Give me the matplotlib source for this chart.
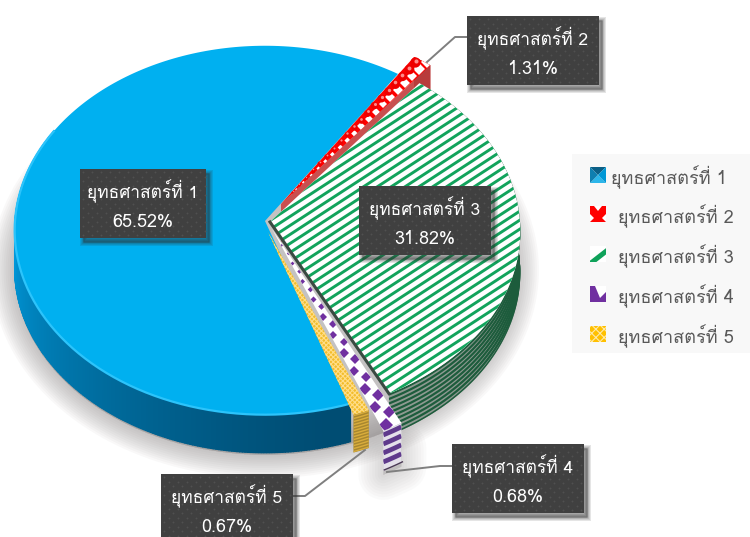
import numpy as np
import matplotlib
matplotlib.use('Agg')
import matplotlib.pyplot as plt
from matplotlib.patches import Polygon, Rectangle

names = ['ยุทธศาสตร์ที่ 1', 'ยุทธศาสตร์ที่ 2', 'ยุทธศาสตร์ที่ 3', 'ยุทธศาสตร์ที่ 4', 'ยุทธศาสตร์ที่ 5']
values = [65.52, 1.31, 31.82, 0.68, 0.67]
pct_labels = ['65.52%', '1.31%', '31.82%', '0.68%', '0.67%']

plt.rcParams['font.family'] = ['Loma', 'DejaVu Sans']
plt.rcParams['hatch.linewidth'] = 0.8

# the small slices are drawn wider than their true share, as in the original
sweep_scale = [0.986, 1.0, 1.0, 1.8, 1.5]
angle_shift = [0, 0, 0, -2.0, 0]
first_angle = 161.0
persp = 0.05
depth = 38
cx = [265, 281, 270, 272, 268]
cy = [221, 204, 222, 229, 232]
rx = [250, 250, 250, 255, 250]
ry = [184, 184, 184, 212, 184]

fig = plt.figure(figsize=(7.5, 5.37), dpi=100)
ax = fig.add_axes([0, 0, 1, 1])
ax.set_xlim(0, 750)
ax.set_ylim(537, 0)
ax.axis('off')

sweeps = np.array(values) * 3.6 * np.array(sweep_scale)
sweeps = sweeps * 360 / sweeps.sum()
starts = first_angle + np.concatenate([[0], np.cumsum(sweeps)[:-1]]) + np.array(angle_shift)
z = [1]


def next_z():
    z[0] += 1
    return z[0]


def arc(i, t0, t1, n=200):
    t = np.radians(np.linspace(t0, t1, n))
    w = 1 / (1 + persp * np.cos(t))
    return cx[i] + rx[i] * np.sin(t) * w, cy[i] - ry[i] * np.cos(t) * w


def wedge(i):
    x, y = arc(i, starts[i], starts[i] + sweeps[i])
    return np.r_[cx[i], x], np.r_[cy[i], y]


def add_poly(x, y, **kw):
    p = Polygon(np.c_[x, y], closed=True, zorder=next_z(), **kw)
    ax.add_patch(p)
    return p


def add_rect(x, y, w, h, **kw):
    return ax.add_patch(Rectangle((x, y), w, h, zorder=next_z(), **kw))


def add_line(x, y, clip=None, **kw):
    ln = ax.plot(x, y, zorder=next_z(), **kw)[0]
    if clip is not None:
        ln.set_clip_path(clip)
    return ln


def mix(c0, c1, f):
    return tuple((1 - f) * np.array(c0) + f * np.array(c1))


def ray_point(i, frac, f):
    a = starts[i] + sweeps[i] * frac
    lx, ly = arc(i, a, a, 2)
    return cx[i] + (lx[0] - cx[i]) * f, cy[i] + (ly[0] - cy[i]) * f


# soft shadow under the whole pie
sx, sy = arc(0, 0, 360)
for lw in range(34, 0, -3):
    add_poly(sx, sy + depth + 2, fc='#8a8585', ec='#8a8585', lw=lw, alpha=0.05)
px, py = arc(3, starts[3], starts[3] + sweeps[3], 20)
for lw in range(36, 0, -4):
    add_poly(np.r_[px, px[::-1]], np.r_[py + 25, py[::-1] + depth + 6], fc='#8a8585', ec='#8a8585',
             lw=lw, alpha=0.035, joinstyle='round')

# blue slice
x, y = arc(0, starts[0], starts[0] + sweeps[0], 400)
ang = np.linspace(starts[0], starts[0] + sweeps[0], 400)
for k in range(399):
    if ang[k] > 300:
        break
    f = np.clip((ang[k] - 165) / 105, 0, 1)
    col = mix((0.0, 0.30, 0.45), (0.0, 0.60, 0.86), f ** 1.3)
    add_poly([x[k], x[k + 1], x[k + 1], x[k]], [y[k], y[k + 1], y[k + 1] + depth, y[k] + depth],
             fc=col, ec=col, lw=1.0)
wx, wy = wedge(0)
add_poly(wx, wy, fc='#00B0F0', ec='none')
bx, by = arc(0, starts[0], 300)
add_line(bx, by, color='#2cc4fb', lw=1.6)

# red slice, cut face first
i = 1
end = starts[i] + sweeps[i]
ex, ey = arc(i, end, end, 2)
add_poly([cx[i], ex[0], ex[0], cx[i]], [cy[i], ey[0], ey[0] + depth, cy[i] + depth], fc='#c94f4f', ec='none')
ox, oy = arc(i, starts[i], end, 20)
add_poly(np.r_[ox, ox[::-1]], np.r_[oy, oy[::-1] + depth], fc='#b83c3c', ec='none')
wx, wy = wedge(i)
red = add_poly(wx, wy, fc='#ff0000', ec='none')
for f in np.arange(0.08, 1.0, 0.05):
    mx, my = ray_point(i, 0.72, f + 0.025)
    add_line(mx, my, clip=red, marker='D', ms=1 + 5 * f, color='white', mew=0)
    mx, my = ray_point(i, 0.25, f)
    add_line(mx, my, marker='o', ms=1 + 6.5 * f, color='#ee0000', mew=0)
    add_line(mx + 0.6, my - 1.2, marker='o', ms=0.5 + 2.5 * f, color='#ff8a8a', mew=0)

# green slice
i = 2
x, y = arc(i, starts[i], starts[i] + sweeps[i], 300)
wall = add_poly(np.r_[x, x[::-1]], np.r_[y, y[::-1] + depth + 4], fc='#8f9a92', ec='none')
for d in np.arange(1, depth + 4, 4.5):
    add_line(x, y + d, clip=wall, color='#1d5c3c', lw=1.6, solid_capstyle='butt')
wx, wy = wedge(i)
green = add_poly(wx, wy, fc='white', ec='none')
xs = np.array([0.0, 750.0])
for off in np.arange(0, 1000, 9.0):
    add_line(xs, off - 0.65 * xs, clip=green, color='#12a35c', lw=2.1, solid_capstyle='butt')
ex, ey = arc(i, starts[i] + sweeps[i], starts[i] + sweeps[i], 2)
add_line([cx[i], ex[0]], [cy[i], ey[0]], color='#3a4a42', lw=2.2)

# yellow slice
i = 4
x, y = arc(i, starts[i], starts[i] + sweeps[i], 20)
wall = add_poly(np.r_[x, x[::-1]], np.r_[y, y[::-1] + depth], fc='#a8872f', ec='none')
for d in np.arange(1, depth, 3.0):
    add_line(x, y + d, clip=wall, color='#d9ad3c', lw=1.0, solid_capstyle='butt')
wx, wy = wedge(i)
add_poly(wx, wy, fc='#f2bd2c', ec='#ffdd88', hatch='xxxxxxx', lw=0)

# purple slice
i = 3
x, y = arc(i, starts[i], starts[i] + sweeps[i], 20)
wall = add_poly(np.r_[x, x[::-1]], np.r_[y, y[::-1] + depth + 2], fc='#e4e0ea', ec='none')
for d in np.arange(4, depth + 2, 9.0):
    add_line(x, y + d, clip=wall, color='#5f3a8c', lw=3.4, solid_capstyle='butt')
add_line(x + 1, y + depth + 1, color='#4b3a55', lw=1)
wx, wy = wedge(i)
purple = add_poly(wx, wy, fc='white', ec='none')
for f in np.arange(0.08, 1.02, 0.045):
    side = 0.25 if round(f / 0.045) % 2 else 0.75
    mx, my = ray_point(i, side, f)
    add_line(mx, my, clip=purple, marker='D', ms=1 + 6 * f, color='#7030A0', mew=0)

# leader lines
leader_x = [[467, 455, 427], [452, 440, 387], [293, 305, 365]]
leader_y = [[37, 37, 62], [466, 466, 472], [496, 496, 450]]
for lx, ly in zip(leader_x, leader_y):
    add_line(lx, ly, color='#7f7f7f', lw=1.4)

# data labels
box_left = [80, 467, 359, 452, 161]
box_top = [169, 16, 186, 444, 474]
box_w = [126, 132, 132, 132, 132]
box_h = 69
for i in range(5):
    for lw in [5, 3.5, 2, 1]:
        add_rect(box_left[i] + 3, box_top[i] + 4, box_w[i], box_h, fc='#303030', ec='#303030', lw=lw, alpha=0.13)
    r = add_rect(box_left[i], box_top[i], box_w[i], box_h, fc='#404040', ec='none')
    gx, gy = np.meshgrid(np.arange(box_left[i] + 3, box_left[i] + box_w[i], 9.0),
                         np.arange(box_top[i] + 3, box_top[i] + box_h, 4.5))
    gx[1::2] += 4.5
    add_line(gx.ravel(), gy.ravel(), clip=r, ls='none', marker='o', ms=1.4, mew=0, color='#505050')
    mid = box_left[i] + box_w[i] / 2
    ax.text(mid, box_top[i] + 22, names[i], color='white', fontsize=12.5, ha='center', va='center', zorder=next_z())
    ax.text(mid, box_top[i] + 53, pct_labels[i], color='white', fontsize=13, ha='center', va='center', zorder=next_z())

# legend
add_rect(572, 154, 178, 199, fc='#f8f8f8', ec='none')
swatch_y = [167, 206, 246, 286, 326]
text_x = [611, 618, 618, 618, 618]
sw = 16
for i in range(5):
    ax.text(text_x[i], swatch_y[i] + 10, names[i], color='#595959', fontsize=13, ha='left', va='center', zorder=next_z())
y0 = swatch_y[0]
add_poly([590, 606, 598], [y0, y0, y0 + 8], fc='#0b5f86', ec='none')
add_poly([590, 606, 598], [y0 + sw, y0 + sw, y0 + 8], fc='#2cb6ea', ec='none')
add_poly([590, 590, 598], [y0, y0 + sw, y0 + 8], fc='#0f7fb0', ec='none')
add_poly([606, 606, 598], [y0, y0 + sw, y0 + 8], fc='#0098d6', ec='none')
y0 = swatch_y[1]
add_rect(590, y0, sw, sw, fc='#ff0000', ec='none')
add_poly([594, 602, 598], [y0, y0, y0 + 5], fc='white', ec='none')
add_poly([590, 594, 590], [y0 + 8, y0 + 12, y0 + 16], fc='white', ec='none')
add_poly([606, 602, 606], [y0 + 8, y0 + 12, y0 + 16], fc='white', ec='none')
y0 = swatch_y[2]
sq = add_rect(590, y0, sw, sw, fc='white', ec='none')
for off in [y0 + 600 * 0.78 + 10, y0 + 600 * 0.78 + 24]:
    add_line(xs, off - 0.78 * xs, clip=sq, color='#0fa25a', lw=3.6, solid_capstyle='butt')
y0 = swatch_y[3]
add_rect(590, y0, sw, sw, fc='#7030A0', ec='none')
add_poly([595, 606, 606, 600], [y0, y0, y0 + 6, y0 + 12], fc='white', ec='none')
y0 = swatch_y[4]
add_rect(590, y0, sw, sw, fc='#FFC000', ec='#ffe9a8', hatch='xxxx', lw=0)

plt.savefig('out.png', dpi=100)
